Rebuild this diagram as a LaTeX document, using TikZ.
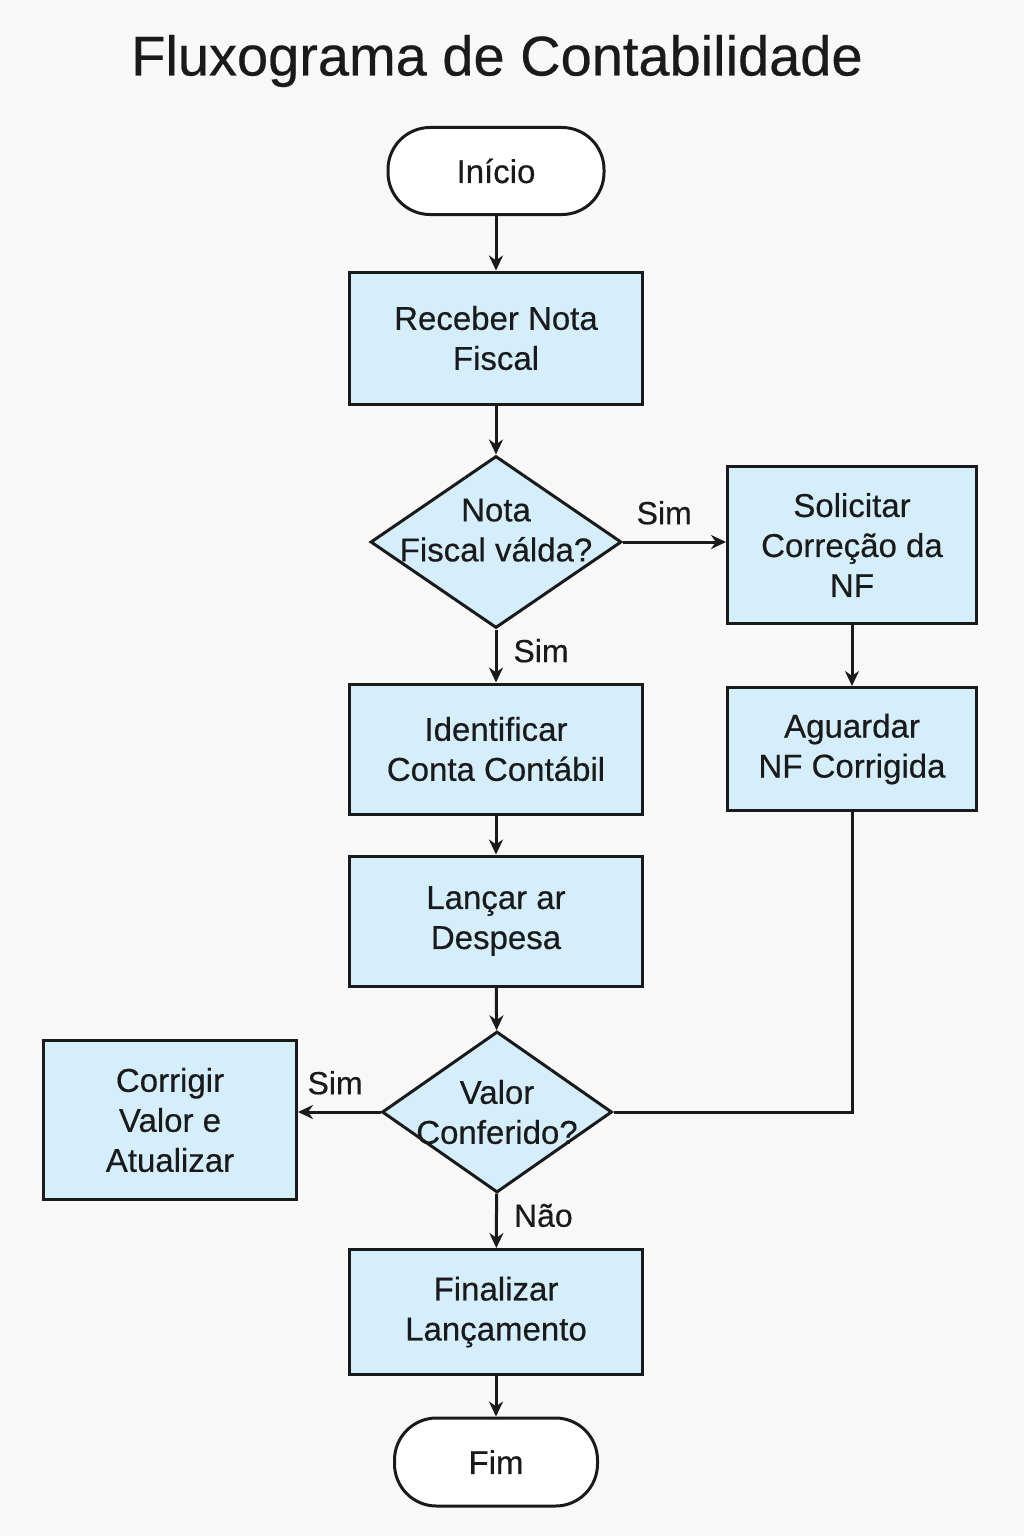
\documentclass[tikz,border=0pt]{standalone}
\usepackage{fontspec}
\setmainfont{Liberation Sans}
\newfontfamily\medfont{Liberation Sans}[FakeBold=0.4]
\usetikzlibrary{shapes.geometric,arrows.meta}
\definecolor{boxblue}{HTML}{D5EEFC}
\definecolor{paper}{HTML}{F8F8F8}
\definecolor{ink}{HTML}{1A1A1A}
\tikzset{
  proc/.style={draw=ink, line width=1.5pt, fill=boxblue, align=center,
    minimum width=146.5pt, minimum height=65pt},
  term/.style={draw=ink, line width=1.5pt, fill=white, rounded corners=21pt,
    minimum width=108pt, minimum height=43.5pt},
  decis/.style={diamond, draw=ink, line width=1.5pt, fill=boxblue, align=center,
    inner sep=-30pt},
  arr/.style={draw=ink, line width=1.5pt, -{Stealth[length=7.5pt,width=7pt]}},
  lbl/.style={font=\medfont\fontsize{16}{19}\selectfont, inner sep=2pt}
}
\begin{document}
\begin{tikzpicture}[x=0.5pt,y=-0.5pt,
    every node/.style={font=\medfont\fontsize{16.5}{20}\selectfont, text=ink}]
  \fill[paper] (0,0) rectangle (1024,1536);
  \node[font=\medfont\fontsize{28}{32}\selectfont] (title) at (497,61) {Fluxograma de Contabilidade};
  % coluna principal
  \node[term] (inicio) at (496,171) {Início};
  \node[proc, minimum height=66pt] (receber) at (496,338) {Receber Nota\\Fiscal};
  \node[decis, minimum width=125.5pt, minimum height=86pt, text depth=12pt] (valida) at (496,542) {Nota\\Fiscal válda?};
  \node[proc] (ident) at (496,749) {Identificar\\Conta Contábil};
  \node[proc] (lancar) at (496,921) {Lançar ar\\Despesa};
  \node[decis, minimum width=115pt, minimum height=80.5pt] (confere) at (497,1112) {Valor\\Conferido?};
  \node[proc, minimum height=62.5pt] (final) at (496,1312) {Finalizar\\Lançamento};
  \node[term, minimum width=101.5pt, minimum height=44pt] (fim) at (496,1462) {Fim};
  % lados
  \node[proc, minimum width=124.5pt, minimum height=78.5pt] (solic) at (852,545) {Solicitar\\Correção da\\NF};
  \node[proc, minimum width=124.5pt, minimum height=61.5pt] (aguarda) at (852,749) {Aguardar\\NF Corrigida};
  \node[proc, minimum width=126.5pt, minimum height=79.5pt] (corrige) at (170,1120) {Corrigir\\Valor e\\Atualizar};
  % ligacoes
  \draw[arr] (inicio) -- (receber);
  \draw[arr] (receber) -- (valida);
  \draw[arr] (valida.east) -- node[lbl, pos=0.4, above=6pt] {Sim} (solic.west |- valida.east);
  \draw[arr] (valida) -- node[lbl, pos=0.4, right=6pt] {Sim} (ident);
  \draw[arr] (solic) -- (aguarda);
  \draw[arr] (ident) -- (lancar);
  \draw[arr] (lancar) -- (confere);
  \draw[arr] (confere.west) -- node[lbl, pos=0.55, above=6pt] {Sim} (corrige.east |- confere.west);
  \draw[arr] (confere) -- node[lbl, pos=0.4, right=6pt] {Não} (final);
  \draw[arr] (final) -- (fim);
  \draw[draw=ink, line width=1.5pt] (aguarda.south) |- (confere.east);
\end{tikzpicture}
\end{document}
